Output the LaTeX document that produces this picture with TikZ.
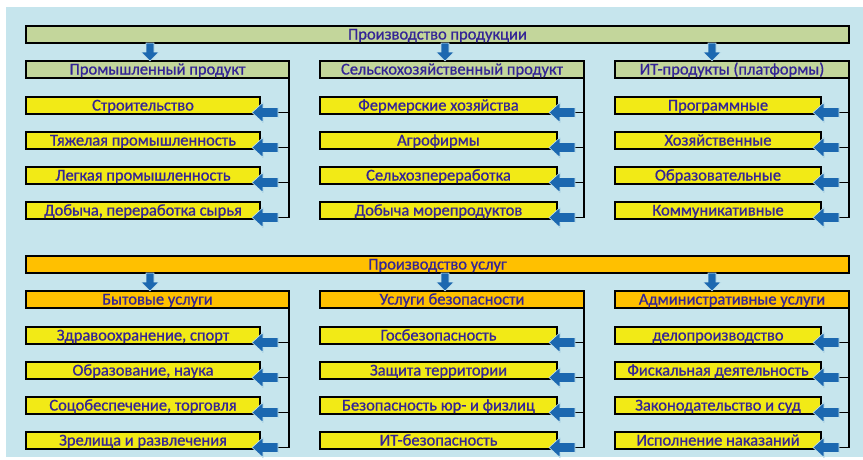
\documentclass[tikz,border=0pt]{standalone}
\usepackage{fontspec}
\setmainfont{Carlito}
\newfontfamily\boxfont{Carlito}[FakeBold=0.8]
\usetikzlibrary{calc}
\definecolor{bgblue}{RGB}{198,229,237}
\definecolor{barGreen}{RGB}{195,214,155}
\definecolor{barOrange}{RGB}{255,192,0}
\definecolor{itemYellow}{RGB}{242,234,22}
\definecolor{txtBlue}{RGB}{52,36,150}
\definecolor{arrBlue}{RGB}{28,104,176}

% box with its top-left corner at (#2,#4), right edge at #3
\newcommand\boxnode[6]{%
  \node[box, fill=#5, minimum width={#3pt-#2pt}] (#1) at (#2,#4) {#6};}
% four stacked items of one column, first top edge at #4
\newcommand\itemcol[5]{%
  \foreach \t [count=\r] in {#5} {%
    \pgfmathsetmacro\yy{#4+35*(\r-1)}
    \node[box, fill=itemYellow, minimum width={#3pt-#2pt}] (#1-\r) at (#2,\yy) {\t};
  }}
% vertical feed line on the right of a header, branches and left block arrows into the items
\newcommand\feed[2]{%
  \draw[conn] (#1.north east) -- ($(#1.east |- #2-4.south)+(0,-1.5)$);
  \foreach \r in {1,...,4} {%
    \coordinate (#2-\r-tip) at ($(#2-\r.south east)+(-8,-1.5)$);
    \draw[conn] (#2-\r-tip -| #1.east) -- (#2-\r-tip);
    \filldraw[blockarrow] (#2-\r-tip) -- ++(11,-10) -- ++(0,5) -- ++(15,0)
      -- ++(0,10) -- ++(-15,0) -- ++(0,5) -- cycle;
  }}
% down block arrow from a bar into a header, tip on the header's top edge
\newcommand\down[2]{%
  \filldraw[blockarrow] (#1 |- #2.north) -- ++(-9,-9) -- ++(5,0) -- ++(0,-9)
    -- ++(8,0) -- ++(0,9) -- ++(5,0) -- cycle;}

\begin{document}
\begin{tikzpicture}[x=1pt,y=-1pt,
  box/.style={draw=black, line width=1.7pt, anchor=north west, outer sep=0pt,
    inner xsep=0pt, inner ysep=0pt, minimum height=17pt,
    text height=12.5pt, text depth=2.5pt,
    font=\boxfont\fontsize{16.5}{17}\selectfont, text=txtBlue},
  conn/.style={draw=black, line width=1.4pt},
  blockarrow/.style={fill=arrBlue, draw=bgblue, line width=0.6pt, line join=miter}]

\useasboundingbox (0,0) rectangle (863,459);
\fill[bgblue] (6,7) rectangle (863,457);

% ---------- goods ----------
\boxnode{goods}{26}{849}{26}{barGreen}{Производство продукции}
\boxnode{g1}{26}{289}{61}{barGreen}{Промышленный продукт}
\boxnode{g2}{320}{584}{61}{barGreen}{Сельскохозяйственный продукт}
\boxnode{g3}{615}{849}{61}{barGreen}{ИТ-продукты (платформы)}

\itemcol{gi1}{26}{260}{97}{Строительство, Тяжелая промышленность, Легкая промышленность, {Добыча, переработка сырья}}
\itemcol{gi2}{320}{557}{97}{Фермерские хозяйства, Агрофирмы, Сельхозпереработка, Добыча морепродуктов}
\itemcol{gi3}{615}{821}{97}{Программные, Хозяйственные, Образовательные, Коммуникативные}

% ---------- services ----------
\boxnode{serv}{26}{849}{256}{barOrange}{Производство услуг}
\boxnode{s1}{26}{289}{291}{barOrange}{Бытовые услуги}
\boxnode{s2}{320}{584}{291}{barOrange}{Услуги безопасности}
\boxnode{s3}{615}{849}{291}{barOrange}{Административные услуги}

\itemcol{si1}{26}{260}{327}{{Здравоохранение, спорт}, {Образование, наука}, {Соцобеспечение, торговля}, Зрелища и развлечения}
\itemcol{si2}{320}{557}{327}{Госбезопасность, Защита территории, Безопасность юр- и физлиц, ИТ-безопасность}
\itemcol{si3}{615}{821}{327}{делопроизводство, Фискальная деятельность, Законодательство и суд, Исполнение наказаний}

% ---------- connectors ----------
\coordinate (ax1) at (150,0);
\coordinate (ax2) at (445,0);
\coordinate (ax3) at (712,0);

\down{ax1}{g1} \down{ax2}{g2} \down{ax3}{g3}
\down{ax1}{s1} \down{ax2}{s2} \down{ax3}{s3}

\feed{g1}{gi1} \feed{g2}{gi2} \feed{g3}{gi3}
\feed{s1}{si1} \feed{s2}{si2} \feed{s3}{si3}
\end{tikzpicture}
\end{document}
